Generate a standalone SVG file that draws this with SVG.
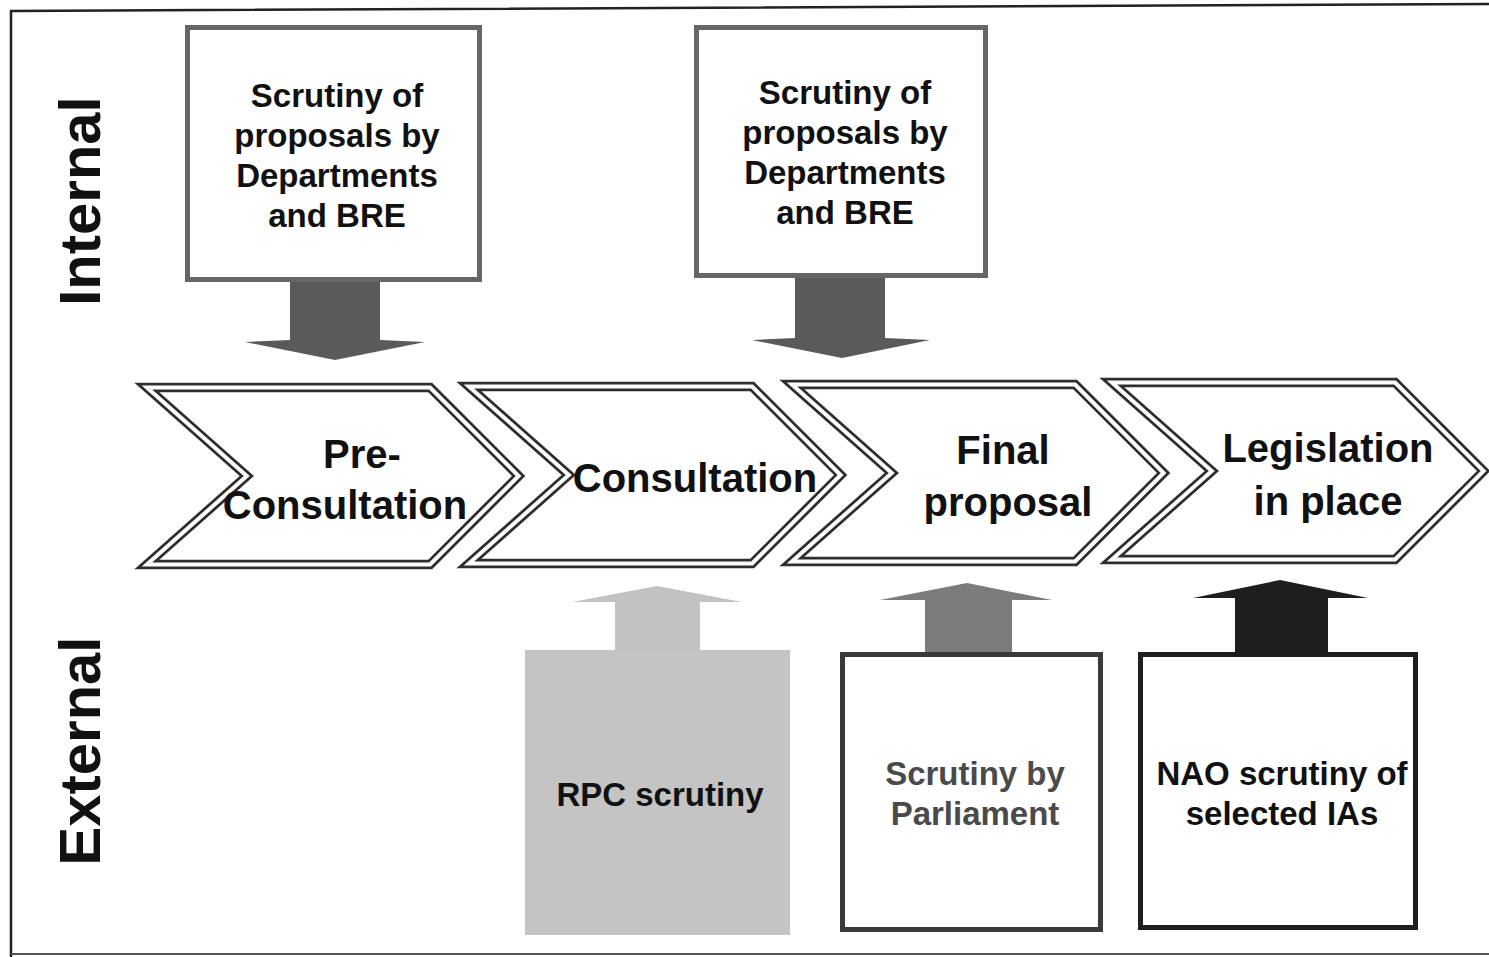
<svg xmlns="http://www.w3.org/2000/svg" xmlns:xlink="http://www.w3.org/1999/xlink" width="1489" height="957" viewBox="0 0 1489 957">
<style>
  .t { font-family: "Liberation Sans", Arial, sans-serif; font-weight: bold; text-anchor: middle; fill: #111; }
  .box { stroke: #666; stroke-width: 5; fill: #fff; }
  .chevO { fill: #fff; stroke: #2e2e2e; stroke-width: 9.5; stroke-linejoin: miter; stroke-miterlimit: 10; }
  .chevI { fill: none; stroke: #fff; stroke-width: 4; stroke-linejoin: miter; stroke-miterlimit: 10; }
</style>
<defs>
  <path id="chev" d="M11.9,4.5 H295.1 L383.6,93 L295.1,181.5 H11.9 L111.8,93 Z"/>
</defs>
<rect width="1489" height="957" fill="#fff"/>
<g id="frame" fill="none" stroke="#222" stroke-width="2.5">
  <path d="M11,957 V11 L1489,4"/>
  <path d="M11,954 H1489" stroke="#555" stroke-width="2"/>
</g>
<g id="side-labels">
  <text class="t" font-size="58" transform="translate(100,201) rotate(-90)">Internal</text>
  <text class="t" font-size="58" transform="translate(100,751) rotate(-90)">External</text>
</g>
<g id="connectors">
  <polygon points="290,282 380,282 380,340 425,342 335,360 245,342 290,340" fill="#5a5a5a"/>
  <polygon points="795,278 885,278 885,338 930,340 842,358 752,340 795,338" fill="#5a5a5a"/>
  <polygon points="615,650 615,602 572,602 657,586 742,602 700,602 700,650" fill="#c2c2c2"/>
  <polygon points="925,654 925,600 880,600 967,583 1052,600 1012,600 1012,654" fill="#7c7c7c"/>
  <polygon points="1235,654 1235,598 1193,598 1280,580 1368,598 1328,598 1328,654" fill="#1e1e1e"/>
</g>
<g id="internal-1">
  <rect class="box" x="187.5" y="27.5" width="292" height="252"/>
  <text class="t" font-size="33" x="337" y="107">Scrutiny of</text>
  <text class="t" font-size="33" x="337" y="147">proposals by</text>
  <text class="t" font-size="33" x="337" y="187">Departments</text>
  <text class="t" font-size="33" x="337" y="227">and BRE</text>
</g>
<g id="internal-2">
  <rect class="box" x="696.5" y="27.5" width="289" height="248"/>
  <text class="t" font-size="33" x="845" y="104">Scrutiny of</text>
  <text class="t" font-size="33" x="845" y="144">proposals by</text>
  <text class="t" font-size="33" x="845" y="184">Departments</text>
  <text class="t" font-size="33" x="845" y="224">and BRE</text>
</g>
<g id="stage-pre-consultation">
  <use xlink:href="#chev" class="chevO" transform="translate(135,383)"/>
  <use xlink:href="#chev" class="chevI" transform="translate(135,383)"/>
  <text class="t" font-size="40" x="362" y="468">Pre-</text>
  <text class="t" font-size="40" x="345" y="519">Consultation</text>
</g>
<g id="stage-consultation">
  <use xlink:href="#chev" class="chevO" transform="translate(457,382)"/>
  <use xlink:href="#chev" class="chevI" transform="translate(457,382)"/>
  <text class="t" font-size="40" x="695" y="492">Consultation</text>
</g>
<g id="stage-final-proposal">
  <use xlink:href="#chev" class="chevO" transform="translate(780,380)"/>
  <use xlink:href="#chev" class="chevI" transform="translate(780,380)"/>
  <text class="t" font-size="40" x="1003" y="464">Final</text>
  <text class="t" font-size="40" x="1008" y="516">proposal</text>
</g>
<g id="stage-legislation">
  <use xlink:href="#chev" class="chevO" transform="translate(1100,378)"/>
  <use xlink:href="#chev" class="chevI" transform="translate(1100,378)"/>
  <text class="t" font-size="40" x="1328" y="462">Legislation</text>
  <text class="t" font-size="40" x="1328" y="515">in place</text>
</g>
<g id="external-rpc">
  <rect x="525" y="650" width="265" height="285" fill="#c4c4c4"/>
  <text class="t" font-size="33" x="660" y="806" fill="#222">RPC scrutiny</text>
</g>
<g id="external-parliament">
  <rect x="842.5" y="654.5" width="258" height="275" fill="#fff" stroke="#3a3a3a" stroke-width="5"/>
  <text class="t" font-size="33" x="975" y="785" style="fill:#4a4a4a">Scrutiny by</text>
  <text class="t" font-size="33" x="975" y="825" style="fill:#4a4a4a">Parliament</text>
</g>
<g id="external-nao">
  <rect x="1140.5" y="654.5" width="275" height="273" fill="#fff" stroke="#1e1e1e" stroke-width="5"/>
  <text class="t" font-size="33" x="1282" y="785">NAO scrutiny of</text>
  <text class="t" font-size="33" x="1282" y="825">selected IAs</text>
</g>
</svg>
